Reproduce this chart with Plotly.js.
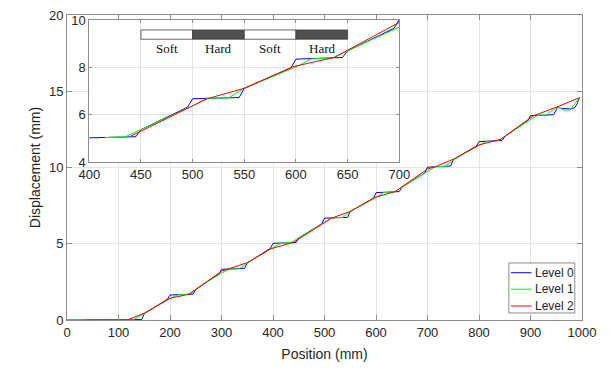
<!DOCTYPE html>
<html>
<head>
<meta charset="utf-8">
<script src="https://cdn.plot.ly/plotly-3.0.1.min.js"></script>
<style>
  html, body { margin: 0; padding: 0; background: #fff; }
  #chart { width: 612px; height: 375px; }
</style>
</head>
<body>
<div id="chart"></div>
<script>
// displacement, mm vs mm
const level0X = [0, 145, 150, 195, 200, 245, 250, 295, 300, 345, 350, 395, 400, 445, 450, 495, 500, 545, 550, 595, 600, 645, 650, 695, 700, 745, 750, 795, 800, 845, 850, 895, 900, 945, 953, 958, 977, 986, 991, 995];
const level0Y = [0, 0.03, 0.42, 1.36, 1.64, 1.70, 2.02, 3.02, 3.32, 3.39, 3.74, 4.70, 5.03, 5.08, 5.38, 6.32, 6.68, 6.73, 7.12, 7.97, 8.35, 8.42, 8.70, 9.65, 10.02, 10.10, 10.50, 11.41, 11.70, 11.78, 12.02, 13.08, 13.40, 13.46, 13.99, 13.88, 13.84, 13.92, 14.21, 14.58];

const level1X = [6, 128, 150, 200, 215, 235, 250, 300, 315, 335, 350, 400, 415, 435, 450, 500, 514, 535, 550, 600, 615, 635, 650, 700, 715, 735, 750, 800, 815, 835, 850, 900, 915, 930, 953, 964, 977, 994];
const level1Y = [0, 0, 0.42, 1.42, 1.64, 1.68, 2.02, 3.08, 3.32, 3.36, 3.74, 4.75, 5.04, 5.08, 5.38, 6.38, 6.70, 6.72, 7.12, 8.02, 8.36, 8.39, 8.70, 9.70, 10.05, 10.08, 10.50, 11.45, 11.70, 11.74, 12.02, 13.15, 13.44, 13.45, 13.99, 13.77, 13.77, 14.54];

const level2X = [38, 117, 150, 200, 238, 300, 350, 395, 440, 514, 550, 597, 637, 700, 715, 750, 800, 842, 905, 953, 995];
const level2Y = [0, 0, 0.45, 1.42, 1.70, 3.20, 3.76, 4.66, 5.10, 6.68, 7.12, 8.03, 8.42, 9.90, 10.05, 10.54, 11.48, 11.85, 13.38, 13.99, 14.58];

const levelNames = ["Level 0", "Level 1", "Level 2"];
const levelColors = ["#0000ff", "#00ff00", "#ff0000"];
const insetStart = [400, 415, 440];

const xTicks = [0, 100, 200, 300, 400, 500, 600, 700, 800, 900, 1000];
const yTicks = [0, 5, 10, 15, 20];
const insetXTicks = [400, 450, 500, 550, 600, 650, 700];
const insetYTicks = [4, 6, 8, 10];

const zoneEdges = [450, 500, 550, 600, 650];
const zoneNames = ["Soft", "Hard", "Soft", "Hard"];

const xs = [level0X, level1X, level2X];
const ys = [level0Y, level1Y, level2Y];
const insetX = [insetXTicks[0], insetXTicks.at(-1)];
const insetY = [insetYTicks[0], insetYTicks.at(-1)];

const ink = "#262626";
const edge = "#8c8c8c";
const grid = "#e4e4e4";

function axis(extra) {
    return Object.assign({
        showline: true, linecolor: edge, linewidth: 1, mirror: "ticks",
        ticks: "inside", ticklen: 5, tickcolor: edge, tickwidth: 1,
        showgrid: true, gridcolor: grid, gridwidth: 1, zeroline: false,
        tickfont: { size: 13, color: ink }, fixedrange: true
    }, extra);
}

const main = xs.map((x, i) => ({
    x, y: ys[i], type: "scatter", mode: "lines", name: levelNames[i],
    line: { color: levelColors[i], width: 1 }, xaxis: "x", yaxis: "y"
}));

const inset = xs.map((x, i) => {
    const keep = x.map((v, k) => k).filter(k => x[k] >= insetStart[i] && x[k] <= insetX[1]);
    return {
        x: keep.map(k => x[k]), y: keep.map(k => ys[i][k]), type: "scatter", mode: "lines",
        line: { color: levelColors[i], width: 1 }, xaxis: "x2", yaxis: "y2", hoverinfo: "skip"
    };
});

// white backing so the main grid does not show through the inset
const cover = {
    type: "rect", xref: "x2", yref: "y2", layer: "below",
    x0: insetX[0], x1: insetX[1], y0: insetY[0], y1: insetY[1],
    fillcolor: "#ffffff", line: { width: 0 }
};

const zones = zoneNames.map((n, i) => ({
    type: "rect", xref: "x2", yref: "y2", layer: "above",
    x0: zoneEdges[i], x1: zoneEdges[i + 1], y0: 9.19, y1: 9.58,
    fillcolor: n === "Hard" ? "#505050" : "#ffffff", line: { color: "#404040", width: 0.8 }
}));

const zoneText = zoneNames.map((n, i) => ({
    xref: "x2", yref: "y2", x: (zoneEdges[i] + zoneEdges[i + 1]) / 2, y: 8.78,
    text: n, showarrow: false,
    font: { family: "Liberation Serif, Times New Roman, serif", size: 13, color: "#111" }
}));

// compact MATLAB-style legend box, lower right
const legendRows = [0.155, 0.101, 0.046];
const legendBox = {
    type: "rect", xref: "paper", yref: "paper", layer: "above",
    x0: 0.858, x1: 0.986, y0: 0.023, y1: 0.187,
    fillcolor: "#ffffff", line: { color: edge, width: 1 }
};
const legendLines = levelColors.map((c, i) => ({
    type: "line", xref: "paper", yref: "paper", layer: "above",
    x0: 0.862, x1: 0.902, y0: legendRows[i], y1: legendRows[i],
    line: { color: c, width: 1 }
}));
const legendText = levelNames.map((n, i) => ({
    xref: "paper", yref: "paper", x: 0.904, y: legendRows[i], xanchor: "left", yanchor: "middle",
    text: n, showarrow: false, font: { size: 12, color: ink }
}));

const layout = {
    width: 612, height: 375,
    margin: { l: 67, r: 30, t: 15, b: 55 },
    paper_bgcolor: "#ffffff", plot_bgcolor: "#ffffff",
    font: { family: "Liberation Sans, Arial, sans-serif", size: 13, color: ink },
    showlegend: false,
    xaxis: axis({
        range: [0, 1000], tickvals: xTicks, anchor: "y",
        title: { text: "Position (mm)", font: { size: 14, color: ink }, standoff: 10 }
    }),
    yaxis: axis({
        range: [0, 20], tickvals: yTicks, anchor: "x",
        title: { text: "Displacement (mm)", font: { size: 14, color: ink }, standoff: 5 }
    }),
    xaxis2: axis({
        range: insetX, tickvals: insetXTicks, anchor: "y2",
        domain: [0.0433, 0.6452], ticklen: 3
    }),
    yaxis2: axis({
        range: insetY, tickvals: insetYTicks, anchor: "x2",
        domain: [0.517, 0.9836], ticklen: 3
    }),
    shapes: [cover, ...zones, legendBox, ...legendLines],
    annotations: [...zoneText, ...legendText]
};

Plotly.newPlot("chart", [...main, ...inset], layout, { displayModeBar: false, staticPlot: true });
</script>
</body>
</html>
